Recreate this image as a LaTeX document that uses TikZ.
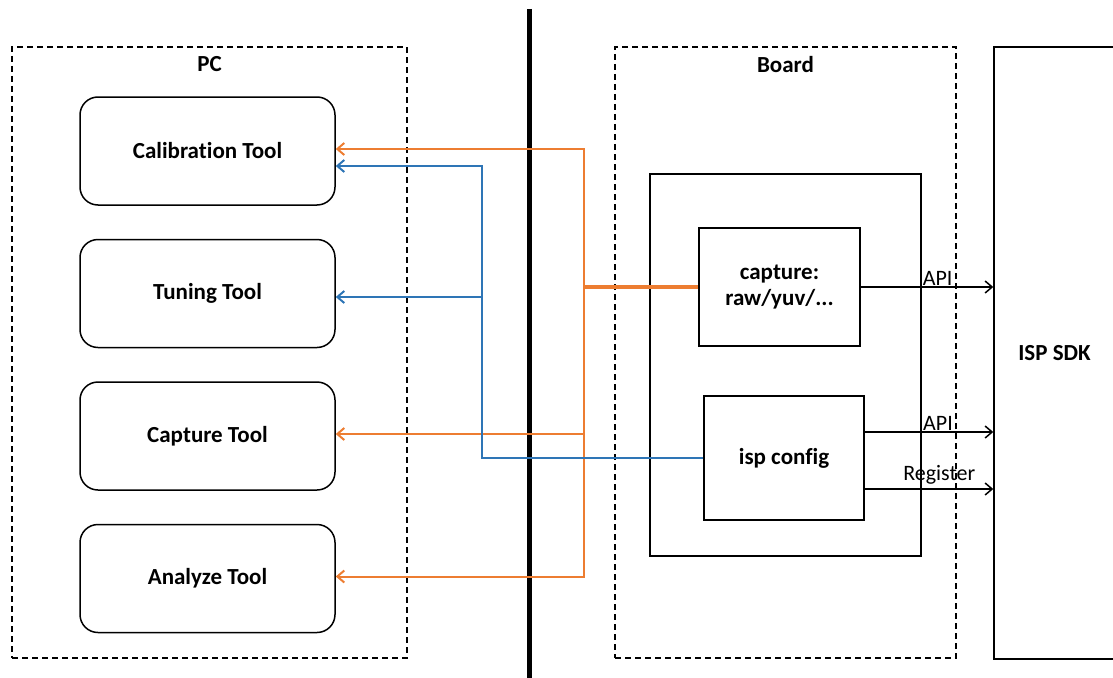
\documentclass[tikz,border=0pt]{standalone}
\usepackage{fontspec}
\setmainfont{Carlito}[Ligatures=NoCommon]
\usepackage{tikz}
\usetikzlibrary{
        arrows.meta,
        positioning
    }
\definecolor{linkorange}{RGB}{237,125,49}
\definecolor{linkblue}{RGB}{46,117,182}
\tikzset{>={Straight Barb[length=7pt,width=12pt]},x=1pt,y=-1pt}
\tikzset{
    tool/.style={draw,line width=1.5pt,rounded corners=18pt,minimum width=255pt,
        minimum height=108pt,font=\bfseries\fontsize{23}{26}\selectfont},
    block/.style={draw,line width=1.5pt,align=center,
        font=\bfseries\fontsize{23}{26}\selectfont},
    group/.style={draw,line width=1.5pt,dash pattern=on 6pt off 4pt},
    head/.style={font=\bfseries\fontsize{23}{26}\selectfont},
    link/.style={line width=1.5pt,->},
    olink/.style={linkorange,line width=2pt,->},
    blink/.style={linkblue,line width=2pt,->},
    tag/.style={font=\fontsize{22}{24}\selectfont,inner sep=1pt}
}

\begin{document}
\begin{tikzpicture}
    \useasboundingbox (0,0) rectangle (1113,677);

    % host side
    \node[group,minimum width=395pt,minimum height=611pt] (pc) at (209.5,352.5) {};
    \node[head,below=7pt of pc.north] (pclabel) {PC};
    \node[tool] (cal) at (207.5,151) {Calibration Tool};
    \node[tool] (tun) [below=33pt of cal] {Tuning Tool};
    \node[tool] (capt) [below=33pt of tun] {Capture Tool};
    \node[tool] (ana) [below=33pt of capt] {Analyze Tool};

    % divider
    \coordinate (divtop) at (529,9);
    \coordinate (divbot) at (529,680);
    \draw[line width=5pt] (divtop) -- (divbot);

    % target side
    \node[group,minimum width=341pt,minimum height=611pt] (board) at (785.5,352.5) {};
    \node[head,below=7pt of board.north] (boardlabel) {Board};
    \node[draw,line width=1.5pt,minimum width=271pt,minimum height=382pt] (app) at (785.5,365) {};
    \node[block,minimum width=161pt,minimum height=118pt] (cap) at (779.5,287) {capture:\\raw/yuv/...};
    \node[block,minimum width=160pt,minimum height=124pt] (isp) at (784,458) {isp config};
    \node[draw,line width=1.5pt,minimum width=121pt,minimum height=612pt,
        font=\bfseries\fontsize{23}{26}\selectfont] (sdk) at (1054.5,353) {ISP SDK};

    % data links
    \coordinate (obus) at (584,287);
    \coordinate (bbus) at (482,297);
    \draw[linkorange,line width=3.5pt] (cap.west) -- (obus);
    \draw[olink] (obus) |- ([yshift=2pt]cal.east);
    \draw[olink] (obus) |- ([yshift=2pt]capt.east);
    \draw[olink] (obus) |- ([yshift=2pt]ana.east);
    \draw[blink] (isp.west) -| (bbus) |- ([yshift=-15pt]cal.east);
    \draw[blink] (bbus) -- (bbus -| tun.east);

    % calls into the sdk
    \draw[link] (cap.east) -- node[tag,pos=0.58,above] {API} (cap.east -| sdk.west);
    \draw[link] ([yshift=26pt]isp.east) -- node[tag,pos=0.57,above] {API} ([yshift=26pt]isp.east -| sdk.west);
    \draw[link] ([yshift=-31pt]isp.east) -- node[tag,pos=0.58,above=3pt] {Register} ([yshift=-31pt]isp.east -| sdk.west);
\end{tikzpicture}
\end{document}
